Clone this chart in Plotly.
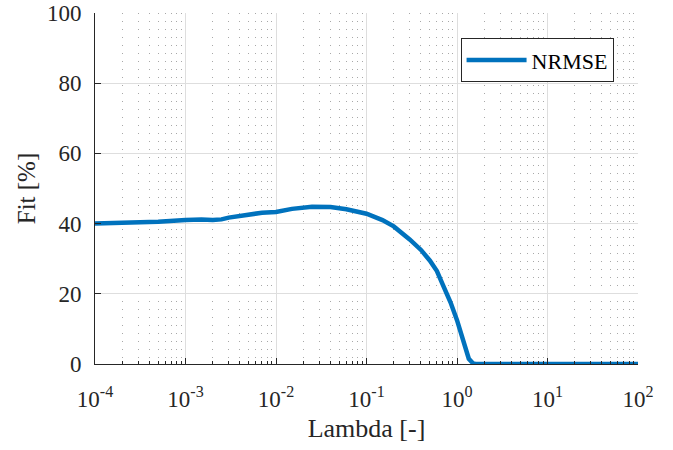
import plotly.graph_objects as go

lam = [1e-4, 2e-4, 5e-4, 1e-3, 1.5e-3, 2e-3, 2.5e-3, 3e-3, 5e-3, 7e-3, 1e-2, 1.5e-2,
       2.5e-2, 4e-2, 6e-2, 0.1, 0.15, 0.2, 0.3, 0.4, 0.5, 0.6, 0.7, 0.85, 1.0, 1.2,
       1.35, 1.5, 1.6, 3, 10, 100]
fit = [40.0, 40.2, 40.5, 41.0, 41.2, 41.0, 41.2, 41.7, 42.6, 43.1, 43.3, 44.2,
       44.8, 44.7, 44.1, 42.8, 41.0, 39.2, 35.5, 32.5, 29.5, 26.5, 22.5, 17.5, 12.5, 5.5,
       1.5, 0.2, 0.0, 0.0, 0.0, 0.0]

xtickvals = [1e-4, 1e-3, 1e-2, 1e-1, 1e0, 1e1, 1e2]
xticktext = ["10<sup>-4</sup>", "10<sup>-3</sup>", "10<sup>-2</sup>", "10<sup>-1</sup>",
             "10<sup>0</sup>", "10<sup>1</sup>", "10<sup>2</sup>"]
xminorvals = [m * 10.0 ** e for e in range(-4, 2) for m in range(2, 10)]
ytickvals = [0, 20, 40, 60, 80, 100]

font = "Liberation Serif"
axcol = "#262626"

fig = go.Figure()
fig.add_trace(go.Scatter(x=lam, y=fit, mode="lines", name="NRMSE",
                         line=dict(color="#0072BD", width=4.5)))

fig.update_layout(
    width=673, height=450,
    margin=dict(l=95, r=35, t=13, b=86, autoexpand=False),
    paper_bgcolor="white", plot_bgcolor="white",
    font=dict(family=font, size=23, color=axcol),
    showlegend=True,
    legend=dict(x=0.955, y=0.928, xanchor="right", yanchor="top",
                bordercolor=axcol, borderwidth=1, bgcolor="white",
                itemwidth=60,
                font=dict(family=font, size=22, color="black")),
    xaxis=dict(type="log", range=[-4, 2], tickvals=xtickvals, ticktext=xticktext,
               automargin=False,
               showline=True, linecolor=axcol, linewidth=1, mirror=False,
               ticks="inside", ticklen=6, tickcolor=axcol, ticklabelstandoff=14,
               showgrid=True, gridcolor="#dedede", gridwidth=1,
               minor=dict(tickvals=xminorvals, ticks="inside", ticklen=3, tickcolor=axcol,
                          showgrid=True, gridcolor="#a8a8a8", griddash="1px,7px"),
               zeroline=False,
               title=dict(text="Lambda [-]", font=dict(family=font, size=26), standoff=8),
               tickfont=dict(family=font, size=23)),
    yaxis=dict(range=[0, 100], tickvals=ytickvals, automargin=False,
               showline=True, linecolor=axcol, linewidth=1,
               ticks="inside", ticklen=6, tickcolor=axcol, ticklabelstandoff=8,
               showgrid=True, gridcolor="#dedede", gridwidth=1,
               zeroline=False,
               title=dict(text="Fit [%]", font=dict(family=font, size=25), standoff=4),
               tickfont=dict(family=font, size=23)),
)

fig.write_html("out.html")
